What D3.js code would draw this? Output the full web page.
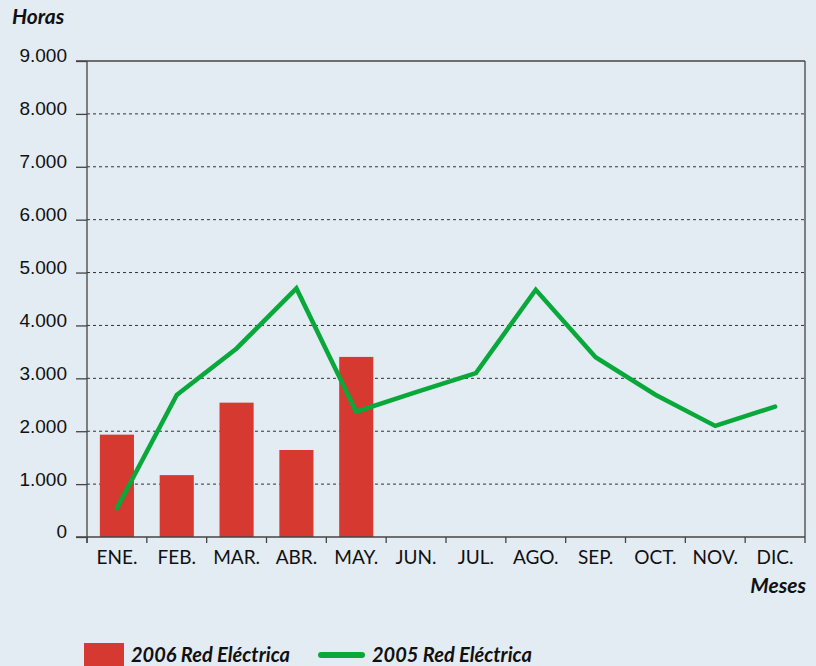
<!DOCTYPE html>
<html>
<head>
<meta charset="utf-8">
<script src="https://cdn.jsdelivr.net/npm/d3@7"></script>
<style>
  body { margin: 0; background: #e3ebf3; }
  svg { display: block; font-family: Lato, "Open Sans", sans-serif; }
</style>
</head>
<body>
<div id="chart"></div>
<script>
// Datos
const months = ["ENE.", "FEB.", "MAR.", "ABR.", "MAY.", "JUN.", "JUL.", "AGO.", "SEP.", "OCT.", "NOV.", "DIC."];
const hours2006 = [1935, 1170, 2540, 1645, 3405];
const hours2005 = [545, 2685, 3565, 4700, 2370, 2740, 3100, 4675, 3400, 2690, 2100, 2465];
const yTicks = [0, 1000, 2000, 3000, 4000, 5000, 6000, 7000, 8000, 9000];

const W = 816, H = 666;
const margin = { top: 61, right: 11, bottom: 129, left: 87 };
const width = W - margin.left - margin.right;
const height = H - margin.top - margin.bottom;

const svg = d3.select("#chart").append("svg")
  .attr("width", W).attr("height", H);

svg.append("rect").attr("width", W).attr("height", H).attr("fill", "#e3ebf3");

const g = svg.append("g").attr("transform", `translate(${margin.left},${margin.top})`);

const x = d3.scaleBand().domain(months).range([0, width]).paddingInner(0.43).paddingOuter(0.215);
const xb = d3.scaleBand().domain(months).range([0, width]);
const y = d3.scaleLinear().domain([0, 9000]).range([height, 0]);

const fmt = d => d3.format(",")(d).replace(/,/g, ".");

// rejilla punteada
g.selectAll(".grid").data(yTicks.filter(d => d > 0 && d < 9000)).enter()
  .append("line")
  .attr("x1", 0).attr("x2", width)
  .attr("y1", d => y(d)).attr("y2", d => y(d))
  .attr("stroke", "#333").attr("stroke-width", 1)
  .attr("stroke-dasharray", "3,3");

// marco superior y derecho
g.append("line").attr("x1", -11).attr("x2", width).attr("y1", 0).attr("y2", 0)
  .attr("stroke", "#444").attr("stroke-width", 1.3);
g.append("line").attr("x1", width).attr("x2", width).attr("y1", 0).attr("y2", height + 6)
  .attr("stroke", "#444").attr("stroke-width", 1.3);

// barras 2006
g.selectAll(".bar").data(hours2006).enter()
  .append("rect")
  .attr("x", (d, i) => x(months[i]))
  .attr("y", d => y(d))
  .attr("width", x.bandwidth())
  .attr("height", d => height - y(d))
  .attr("fill", "#d5392f");

// eje Y
const yAxis = g.append("g")
  .call(d3.axisLeft(y).tickValues(yTicks).tickSize(11).tickFormat(fmt));
yAxis.select(".domain").attr("stroke", "#444").attr("stroke-width", 1.3)
  .attr("d", `M0,0V${height + 6}`);
yAxis.selectAll(".tick line").attr("stroke", "#444").attr("stroke-width", 1.3);
yAxis.selectAll(".tick text").attr("x", -20).attr("dy", "0.05em")
  .attr("font-size", 19).attr("fill", "#111");

// eje X
const xAxis = g.append("g").attr("transform", `translate(0,${height})`);
xAxis.append("line").attr("x1", -11).attr("x2", width).attr("y1", 0).attr("y2", 0)
  .attr("stroke", "#444").attr("stroke-width", 1.3);
xAxis.selectAll(".xt").data(months).enter()
  .append("line")
  .attr("x1", d => xb(d)).attr("x2", d => xb(d))
  .attr("y1", 0).attr("y2", 6)
  .attr("stroke", "#444").attr("stroke-width", 1.3);
xAxis.selectAll(".xl").data(months).enter()
  .append("text")
  .attr("x", d => xb(d) + xb.bandwidth() / 2)
  .attr("y", 27)
  .attr("text-anchor", "middle")
  .attr("font-size", 19).attr("fill", "#111")
  .text(d => d);

// línea 2005
const line = d3.line()
  .x((d, i) => xb(months[i]) + xb.bandwidth() / 2)
  .y(d => y(d));
g.append("path").datum(hours2005)
  .attr("d", line)
  .attr("fill", "none")
  .attr("stroke", "#08a93a")
  .attr("stroke-width", 4.5)
  .attr("stroke-linejoin", "miter")
  .attr("stroke-linecap", "round");

// títulos
svg.append("text").attr("x", 12).attr("y", 24)
  .attr("font-size", 21).attr("font-weight", "bold").attr("font-style", "italic")
  .attr("fill", "#111").text("Horas");
svg.append("text").attr("x", 806).attr("y", 593).attr("text-anchor", "end")
  .attr("font-size", 21).attr("font-weight", "bold").attr("font-style", "italic")
  .attr("fill", "#111").text("Meses");

// leyenda
const legend = svg.append("g");
legend.append("rect").attr("x", 84).attr("y", 643).attr("width", 40).attr("height", 23)
  .attr("fill", "#d5392f");
legend.append("text").attr("x", 131).attr("y", 662)
  .attr("font-size", 20).attr("font-weight", "bold").attr("font-style", "italic")
  .attr("fill", "#111").text("2006 Red Eléctrica");
legend.append("line").attr("x1", 321).attr("x2", 362).attr("y1", 655).attr("y2", 655)
  .attr("stroke", "#08a93a").attr("stroke-width", 6).attr("stroke-linecap", "round");
legend.append("text").attr("x", 372).attr("y", 662)
  .attr("font-size", 20).attr("font-weight", "bold").attr("font-style", "italic")
  .attr("fill", "#111").text("2005 Red Eléctrica");
</script>
</body>
</html>
